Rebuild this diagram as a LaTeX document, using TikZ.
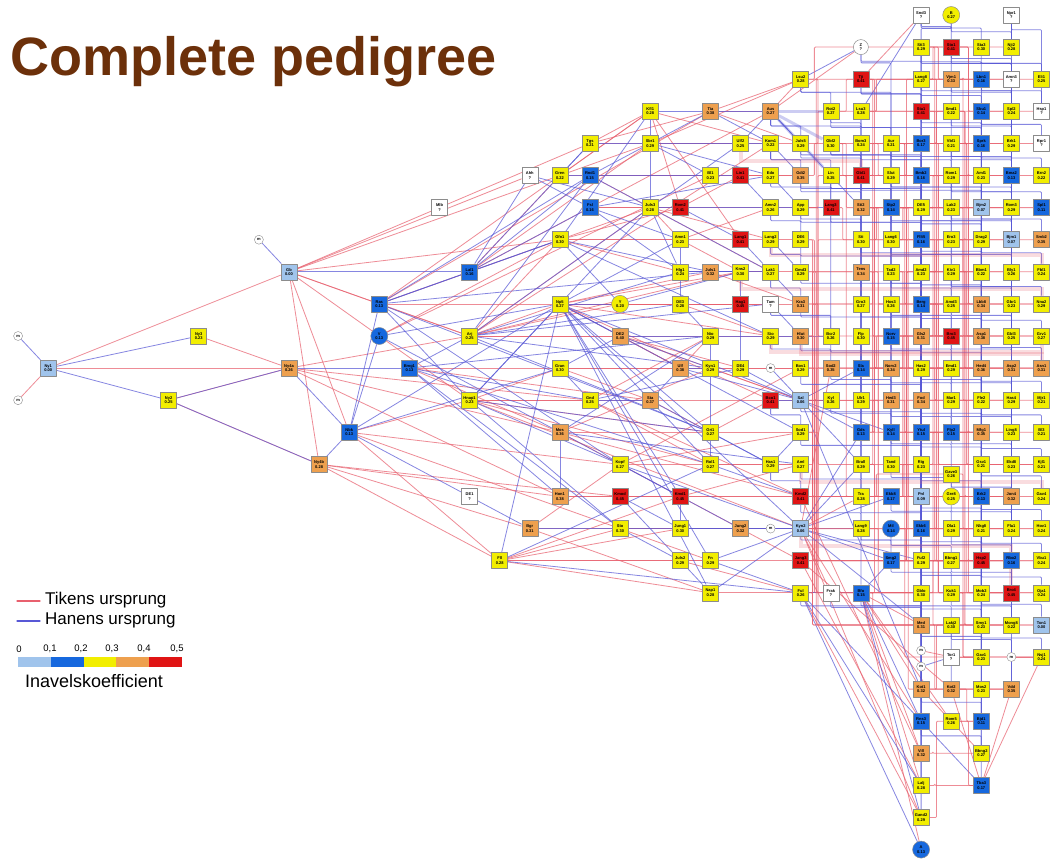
\documentclass[tikz,border=0pt]{standalone}
\usepackage{fontspec}
\setmainfont{Liberation Sans}
\pgfdeclarelayer{edges}
\pgfsetlayers{edges,main}
\definecolor{ilb}{RGB}{160,196,236}
\definecolor{ibl}{RGB}{22,104,222}
\definecolor{iye}{RGB}{242,238,0}
\definecolor{ior}{RGB}{238,160,78}
\definecolor{ird}{RGB}{224,20,20}
\definecolor{tik}{RGB}{232,96,110}
\definecolor{han}{RGB}{88,88,214}
\definecolor{titlebrown}{RGB}{108,48,10}
\begin{document}
\begin{tikzpicture}[x=30.1pt, y=-32.1pt, line join=round, line cap=round,
  ind/.style={draw=black!45, line width=0.5pt, minimum size=16pt, inner sep=0pt, align=center, font=\fontsize{4}{4.4}\selectfont\bfseries},
  ye/.style={ind, fill=iye}, lb/.style={ind, fill=ilb}, bl/.style={ind, fill=ibl},
  og/.style={ind, fill=ior}, rd/.style={ind, fill=ird}, wh/.style={ind, fill=white},
  cye/.style={ye, circle, minimum size=17pt}, cbl/.style={bl, circle, minimum size=17pt}, cwh/.style={wh, circle, minimum size=15pt},
  sc/.style={draw=black!45, fill=white, circle, minimum size=9pt, inner sep=0pt, font=\fontsize{4}{4}\selectfont\bfseries},
  tk/.style={draw=tik, line width=0.8pt, opacity=0.72, rounded corners=1pt},
  hn/.style={draw=han, line width=0.8pt, opacity=0.72, rounded corners=1pt},
  tkb/.style={draw=tik, line width=4pt, opacity=0.22},
  hnb/.style={draw=han, line width=3pt, opacity=0.3}]
\node[sc] (sc1) at (-9,10) {m};
\node[sc] (sc2) at (-9,12) {m};
\node[lb] (Ny1) at (-8,11) {Ny1\\0.00};
\node[ye] (Ny2) at (-4,12) {Ny2\\0.25};
\node[ye] (Ny3) at (-3,10) {Ny3\\0.23};
\node[sc] (sc3) at (-1,7) {m};
\node[lb] (Gb) at (0,8) {Gb\\0.00};
\node[og] (Ny4a) at (0,11) {Ny4a\\0.26};
\node[og] (Ny4b) at (1,14) {Ny4b\\0.28};
\node[bl] (Nbk) at (2,13) {Nbk\\0.13};
\node[bl] (Ras) at (3,9) {Ras\\0.13};
\node[cbl] (V) at (3,10) {V\\0.13};
\node[bl] (Bmg1) at (4,11) {Bmg1\\0.13};
\node[wh] (Mlb) at (5,6) {Mlb\\?};
\node[bl] (Lal1) at (6,8) {Lal1\\0.16};
\node[ye] (Arj) at (6,10) {Arj\\0.25};
\node[ye] (Hnap1) at (6,12) {Hnap1\\0.23};
\node[wh] (DE1) at (6,15) {DE1\\?};
\node[ye] (Fll) at (7,17) {Fll\\0.28};
\node[wh] (Ahh) at (8,5) {Ahh\\?};
\node[og] (Bgr) at (8,16) {Bgr\\0.31};
\node[ye] (Gren) at (9,5) {Gren\\0.22};
\node[ye] (Gfn1) at (9,7) {Gfn1\\0.30};
\node[ye] (Np5) at (9,9) {Np5\\0.27};
\node[ye] (Gran) at (9,11) {Gran\\0.30};
\node[og] (Mos) at (9,13) {Mos\\0.36};
\node[og] (Hon1) at (9,15) {Hon1\\0.38};
\node[ye] (Tgs) at (10,4) {Tgs\\0.21};
\node[bl] (Rnd1) at (10,5) {Rnd1\\0.15};
\node[bl] (Fsl) at (10,6) {Fsl\\0.16};
\node[ye] (Gnd) at (10,12) {Gnd\\0.25};
\node[cye] (Y) at (11,9) {Y\\0.20};
\node[og] (DE2) at (11,10) {DE2\\0.40};
\node[ye] (Kopf) at (11,14) {Kopf\\0.27};
\node[rd] (Kmod) at (11,15) {Kmod\\0.45};
\node[ye] (Sto) at (11,16) {Sto\\0.30};
\node[ye] (Kfl1) at (12,3) {Kfl1\\0.28};
\node[ye] (Sbr1) at (12,4) {Sbr1\\0.29};
\node[ye] (Juls3) at (12,6) {Juls3\\0.28};
\node[og] (Sta) at (12,12) {Sta\\0.37};
\node[rd] (Rom2) at (13,6) {Rom2\\0.41};
\node[ye] (Amn1) at (13,7) {Amn1\\0.23};
\node[ye] (Hlg1) at (13,8) {Hlg1\\0.24};
\node[ye] (DE3) at (13,9) {DE3\\0.28};
\node[og] (Ulf) at (13,11) {Ulf\\0.38};
\node[rd] (Kmd1) at (13,15) {Kmd1\\0.45};
\node[ye] (Jung1) at (13,16) {Jung1\\0.30};
\node[ye] (Juls2) at (13,17) {Juls2\\0.29};
\node[og] (Tia) at (14,3) {Tia\\0.38};
\node[ye] (Bl1) at (14,5) {Bl1\\0.23};
\node[og] (Juls1) at (14,8) {Juls1\\0.32};
\node[ye] (Nio) at (14,10) {Nio\\0.29};
\node[ye] (Kyn1) at (14,11) {Kyn1\\0.29};
\node[ye] (Gri1) at (14,13) {Gri1\\0.27};
\node[ye] (Rol1) at (14,14) {Rol1\\0.27};
\node[ye] (Fn) at (14,17) {Fn\\0.29};
\node[ye] (Nap1) at (14,18) {Nap1\\0.28};
\node[ye] (Ulf2) at (15,4) {Ulf2\\0.25};
\node[rd] (Lin1) at (15,5) {Lin1\\0.41};
\node[rd] (Lang1) at (15,7) {Lang1\\0.41};
\node[ye] (Kns2) at (15,8) {Kns2\\0.30};
\node[rd] (Hag1) at (15,9) {Hag1\\0.45};
\node[ye] (DE4) at (15,11) {DE4\\0.29};
\node[og] (Jung2) at (15,16) {Jung2\\0.32};
\node[og] (Aus) at (16,3) {Aus\\0.27};
\node[ye] (Kom1) at (16,4) {Kom1\\0.22};
\node[ye] (Edo) at (16,5) {Edo\\0.27};
\node[ye] (Amn2) at (16,6) {Amn2\\0.26};
\node[ye] (Lang2) at (16,7) {Lang2\\0.29};
\node[ye] (Lak1) at (16,8) {Lak1\\0.27};
\node[wh] (Tam) at (16,9) {Tam\\?};
\node[ye] (Sio) at (16,10) {Sio\\0.29};
\node[sc] (sc4) at (16,11) {m};
\node[rd] (Bco1) at (16,12) {Bco1\\0.41};
\node[ye] (Has1) at (16,14) {Has1\\0.29};
\node[sc] (sc5) at (16,16) {m};
\node[ye] (Lsu2) at (17,2) {Lsu2\\0.28};
\node[ye] (Juls5) at (17,4) {Juls5\\0.29};
\node[og] (Gdi2) at (17,5) {Gdi2\\0.35};
\node[ye] (App) at (17,6) {App\\0.29};
\node[ye] (DE6) at (17,7) {DE6\\0.29};
\node[ye] (Gmd3) at (17,8) {Gmd3\\0.29};
\node[og] (Kra3) at (17,9) {Kra3\\0.31};
\node[og] (Hlut) at (17,10) {Hlut\\0.30};
\node[ye] (Bov1) at (17,11) {Bov1\\0.29};
\node[lb] (Sal) at (17,12) {Sal\\0.06};
\node[ye] (Sod1) at (17,13) {Sod1\\0.29};
\node[ye] (Aml) at (17,14) {Aml\\0.27};
\node[rd] (Kmd2) at (17,15) {Kmd2\\0.41};
\node[lb] (Kyn2) at (17,16) {Kyn2\\0.06};
\node[rd] (Jang3) at (17,17) {Jang3\\0.41};
\node[ye] (Ful) at (17,18) {Ful\\0.26};
\node[ye] (Rot2) at (18,3) {Rot2\\0.27};
\node[ye] (Gbl2) at (18,4) {Gbl2\\0.30};
\node[ye] (Lin) at (18,5) {Lin\\0.25};
\node[rd] (Lang3) at (18,6) {Lang3\\0.41};
\node[ye] (Bcr2) at (18,10) {Bcr2\\0.26};
\node[og] (Sod2) at (18,11) {Sod2\\0.35};
\node[ye] (Kyl) at (18,12) {Kyl\\0.26};
\node[wh] (Frak) at (18,18) {Frak\\?};
\node[cwh] (Z) at (19,1) {Z\\?};
\node[rd] (Tji) at (19,2) {Tji\\0.41};
\node[ye] (Lsu3) at (19,3) {Lsu3\\0.28};
\node[ye] (Bom3) at (19,4) {Bom3\\0.24};
\node[rd] (Gbl1) at (19,5) {Gbl1\\0.41};
\node[og] (Sti2) at (19,6) {Sti2\\0.32};
\node[ye] (Sti) at (19,7) {Sti\\0.30};
\node[og] (Tens) at (19,8) {Tens\\0.34};
\node[ye] (Gro3) at (19,9) {Gro3\\0.27};
\node[ye] (Flp) at (19,10) {Flp\\0.30};
\node[bl] (Sla) at (19,11) {Sla\\0.14};
\node[ye] (Ulr1) at (19,12) {Ulr1\\0.29};
\node[bl] (Gds) at (19,13) {Gds\\0.13};
\node[ye] (Brall) at (19,14) {Brall\\0.29};
\node[ye] (Tra) at (19,15) {Tra\\0.28};
\node[ye] (Lang9) at (19,16) {Lang9\\0.28};
\node[bl] (Bfo) at (19,18) {Bfo\\0.15};
\node[ye] (Aur) at (20,4) {Aur\\0.21};
\node[ye] (Slut) at (20,5) {Slut\\0.29};
\node[bl] (Stp2) at (20,6) {Stp2\\0.14};
\node[ye] (Lang6) at (20,7) {Lang6\\0.30};
\node[ye] (Tad2) at (20,8) {Tad2\\0.23};
\node[ye] (Hos3) at (20,9) {Hos3\\0.26};
\node[bl] (Norv) at (20,10) {Norv\\0.15};
\node[og] (Norv2) at (20,11) {Norv2\\0.34};
\node[og] (Hed3) at (20,12) {Hed3\\0.31};
\node[bl] (Kyll) at (20,13) {Kyll\\0.14};
\node[ye] (Tand) at (20,14) {Tand\\0.30};
\node[bl] (Ekb8) at (20,15) {Ekb8\\0.17};
\node[cbl] (Mil) at (20,16) {Mil\\0.14};
\node[bl] (Smg2) at (20,17) {Smg2\\0.17};
\node[wh] (Snd3) at (21,0) {Snd3\\?};
\node[ye] (Sti3) at (21,1) {Sti3\\0.29};
\node[ye] (Lang8) at (21,2) {Lang8\\0.27};
\node[rd] (Sta1) at (21,3) {Sta1\\0.41};
\node[bl] (Bor3) at (21,4) {Bor3\\0.17};
\node[bl] (Bmb2) at (21,5) {Bmb2\\0.16};
\node[ye] (DE5) at (21,6) {DE5\\0.29};
\node[bl] (Fllt5) at (21,7) {Fllt5\\0.16};
\node[ye] (Amd2) at (21,8) {Amd2\\0.23};
\node[bl] (Berg) at (21,9) {Berg\\0.14};
\node[og] (Gls2) at (21,10) {Gls2\\0.31};
\node[ye] (Has2) at (21,11) {Has2\\0.29};
\node[og] (Fod) at (21,12) {Fod\\0.34};
\node[bl] (Ytul) at (21,13) {Ytul\\0.15};
\node[ye] (Rig) at (21,14) {Rig\\0.23};
\node[lb] (Pnl) at (21,15) {Pnl\\0.09};
\node[bl] (Ekb6) at (21,16) {Ekb6\\0.16};
\node[ye] (Ful2) at (21,17) {Ful2\\0.29};
\node[ye] (Gblo) at (21,18) {Gblo\\0.30};
\node[og] (Med) at (21,19) {Med\\0.31};
\node[sc] (sc6) at (21,19.8) {m};
\node[sc] (sc7) at (21,20.3) {m};
\node[og] (Kot1) at (21,21) {Kot1\\0.32};
\node[bl] (Rns3) at (21,22) {Rns3\\0.15};
\node[og] (Vill) at (21,23) {Vill\\0.32};
\node[ye] (Lalj) at (21,24) {Lalj\\0.28};
\node[ye] (Gand2) at (21,25) {Gand2\\0.29};
\node[cbl] (A) at (21,26) {A\\0.13};
\node[cye] (B) at (22,0) {B\\0.27};
\node[rd] (Sto1) at (22,1) {Sto1\\0.41};
\node[og] (Vjm1) at (22,2) {Vjm1\\0.33};
\node[ye] (Smd1) at (22,3) {Smd1\\0.22};
\node[ye] (Vbl1) at (22,4) {Vbl1\\0.21};
\node[ye] (Rom1) at (22,5) {Rom1\\0.29};
\node[ye] (Lak2) at (22,6) {Lak2\\0.23};
\node[ye] (Ero3) at (22,7) {Ero3\\0.23};
\node[ye] (Kiv1) at (22,8) {Kiv1\\0.29};
\node[ye] (Amd3) at (22,9) {Amd3\\0.25};
\node[rd] (Bro3) at (22,10) {Bro3\\0.45};
\node[ye] (Emd1) at (22,11) {Emd1\\0.29};
\node[ye] (Mar1) at (22,12) {Mar1\\0.29};
\node[bl] (Flp2) at (22,13) {Flp2\\0.15};
\node[ye] (Gave3) at (22,14.3) {Gave3\\0.26};
\node[cye] (Gre8) at (22,15) {Gre8\\0.25};
\node[ye] (Ola1) at (22,16) {Ola1\\0.29};
\node[ye] (Bbng1) at (22,17) {Bbng1\\0.27};
\node[ye] (Kuk1) at (22,18) {Kuk1\\0.29};
\node[ye] (Lakj2) at (22,19) {Lakj2\\0.30};
\node[wh] (Tor1) at (22,20) {Tor1\\?};
\node[og] (Kot2) at (22,21) {Kot2\\0.32};
\node[ye] (Rom5) at (22,22) {Rom5\\0.26};
\node[ye] (Sta3) at (23,1) {Sta3\\0.30};
\node[bl] (Lbn1) at (23,2) {Lbn1\\0.16};
\node[bl] (Sbu1) at (23,3) {Sbu1\\0.14};
\node[bl] (Sprk) at (23,4) {Sprk\\0.16};
\node[ye] (Aml1) at (23,5) {Aml1\\0.23};
\node[lb] (Bjm2) at (23,6) {Bjm2\\0.07};
\node[ye] (Drag2) at (23,7) {Drag2\\0.29};
\node[ye] (Bbm1) at (23,8) {Bbm1\\0.22};
\node[og] (Lbb8) at (23,9) {Lbb8\\0.34};
\node[og] (Asp1) at (23,10) {Asp1\\0.38};
\node[og] (Hed4) at (23,11) {Hed4\\0.36};
\node[ye] (Fle2) at (23,12) {Fle2\\0.22};
\node[og] (Mfg1) at (23,13) {Mfg1\\0.35};
\node[ye] (Gsv1) at (23,14) {Gsv1\\0.21};
\node[bl] (Brk2) at (23,15) {Brk2\\0.13};
\node[ye] (Nkg8) at (23,16) {Nkg8\\0.21};
\node[rd] (Hsp2) at (23,17) {Hsp2\\0.45};
\node[ye] (Mob2) at (23,18) {Mob2\\0.24};
\node[ye] (Smy1) at (23,19) {Smy1\\0.23};
\node[ye] (Gav1) at (23,20) {Gav1\\0.23};
\node[ye] (Mos2) at (23,21) {Mos2\\0.23};
\node[bl] (Bjd1) at (23,22) {Bjd1\\0.11};
\node[ye] (Bbng2) at (23,23) {Bbng2\\0.27};
\node[bl] (Tba3) at (23,24) {Tba3\\0.17};
\node[wh] (Npr1) at (24,0) {Npr1\\?};
\node[ye] (Nji2) at (24,1) {Nji2\\0.28};
\node[wh] (Amn3) at (24,2) {Amn3\\?};
\node[ye] (Spl2) at (24,3) {Spl2\\0.24};
\node[ye] (Brk1) at (24,4) {Brk1\\0.29};
\node[bl] (Bma2) at (24,5) {Bma2\\0.13};
\node[ye] (Rom3) at (24,6) {Rom3\\0.29};
\node[lb] (Bjm1) at (24,7) {Bjm1\\0.07};
\node[ye] (Bly1) at (24,8) {Bly1\\0.26};
\node[ye] (Gbr1) at (24,9) {Gbr1\\0.23};
\node[ye] (Gbl3) at (24,10) {Gbl3\\0.25};
\node[og] (Asp2) at (24,11) {Asp2\\0.31};
\node[ye] (Has4) at (24,12) {Has4\\0.29};
\node[ye] (Ling8) at (24,13) {Ling8\\0.23};
\node[ye] (Ekd8) at (24,14) {Ekd8\\0.23};
\node[og] (Jon4) at (24,15) {Jon4\\0.32};
\node[ye] (Fla1) at (24,16) {Fla1\\0.24};
\node[bl] (Rbo2) at (24,17) {Rbo2\\0.16};
\node[rd] (Bro4) at (24,18) {Bro4\\0.45};
\node[ye] (Mong8) at (24,19) {Mong8\\0.22};
\node[sc] (sc8) at (24,20) {m};
\node[og] (Vdd) at (24,21) {Vdd\\0.35};
\node[ye] (Eli1) at (25,2) {Eli1\\0.25};
\node[wh] (Hsp1) at (25,3) {Hsp1\\?};
\node[wh] (Rpr1) at (25,4) {Rpr1\\?};
\node[ye] (Brn2) at (25,5) {Brn2\\0.22};
\node[bl] (Spl1) at (25,6) {Spl1\\0.11};
\node[og] (Smb2) at (25,7) {Smb2\\0.35};
\node[ye] (Fbl1) at (25,8) {Fbl1\\0.24};
\node[ye] (Nna2) at (25,9) {Nna2\\0.29};
\node[ye] (Grv1) at (25,10) {Grv1\\0.27};
\node[og] (Asn1) at (25,11) {Asn1\\0.31};
\node[ye] (Mjr1) at (25,12) {Mjr1\\0.21};
\node[ye] (Bl3) at (25,13) {Bl3\\0.21};
\node[ye] (Kjl1) at (25,14) {Kjl1\\0.21};
\node[ye] (Gav4) at (25,15) {Gav4\\0.24};
\node[ye] (Hov1) at (25,16) {Hov1\\0.24};
\node[ye] (Vbu1) at (25,17) {Vbu1\\0.24};
\node[ye] (Oja1) at (25,18) {Oja1\\0.24};
\node[lb] (Ton1) at (25,19) {Ton1\\0.00};
\node[ye] (Nsj1) at (25,20) {Nsj1\\0.24};
\begin{pgfonlayer}{edges}
\fill[white] (-289pt,15pt) rectangle (767pt,-844pt);
\foreach \a/\b in {sc2/Ny1,Ny1/Gb,Ny1/Ny4a,Ny3/Ny4a,Ny2/Ny4a,Ny2/Ny4b,
  Gb/Ras,Gb/Arj,Gb/Hnap1,Gb/Nbk,Gb/Ny4b,Gb/Gren,Gb/Tgs,Gb/Ahh,
  Ny4a/Arj,Ny4a/Mos,Ny4a/Gnd,Ny4a/Hon1,Ny4b/Fll,Ny4b/Bgr,Ny4b/Kmod,
  Nbk/Hnap1,Nbk/Kopf,Nbk/Sto,Nbk/Fll,Ras/Arj,Ras/Np5,Ras/Kfl1,Ras/Tia,V/Gfn1,V/Bl1,
  Bmg1/Gran,Bmg1/Sta,Bmg1/Mos,Lal1/Gren,Lal1/Sbr1,Lal1/Aus,
  Arj/Np5,Arj/Y,Arj/Gfn1,Arj/DE2,Arj/Nio,Arj/Juls3,Hnap1/Gnd,Hnap1/Gran,Hnap1/Rol1,Hnap1/Gri1,
  Fll/Sto,Fll/Jung1,Fll/Juls2,Fll/Nap1,Fll/Kmd1,Bgr/Kopf,Bgr/Jung2,Hon1/Kmod,Hon1/Kmd1,Mos/Kyn1,Mos/Gri1,
  Gren/Kfl1,Gren/Bl1,Gren/Sbr1,Gfn1/Hlg1,Gfn1/Amn1,Np5/DE3,Np5/Juls1,Np5/Kns2,Np5/Ulf,Np5/Sio,
  Gran/Sta,Gran/Kyn1,Gnd/Nio,Gnd/Rol1,Tgs/Kfl1,Tgs/Tia,Rnd1/Lin1,Rnd1/Juls3,Fsl/Rom2,Fsl/Amn2,
  Y/DE3,Y/Hag1,DE2/Ulf,DE2/DE4,Kopf/Rol1,Kopf/Bov1,Kmod/Kmd1,Kmod/Kmd2,Sto/Jung1,Sto/Jung2,
  Kfl1/Rom2,Kfl1/Lang1,Sbr1/Ulf2,Sbr1/Lsu2,Juls3/Amn1,Juls3/Lak1,Sta/Gri1,Sta/Bco1,
  Rom2/Lin1,Amn1/Kns2,Hlg1/Juls1,DE3/Tam,Ulf/Nio,Ulf/Bov1,Kmd1/Kmd2,Jung1/Kyn2,Juls2/Fn,Juls2/Ful,
  Tia/Aus,Bl1/Edo,Juls1/Lak1,Nio/Sio,Kyn1/DE4,Kyn1/Sal,Gri1/Sod1,Rol1/Has1,Rol1/Aml,Fn/Jang3,Nap1/Ful,
  Jung2/Kyn2,Ulf2/Kom1,Lin1/Edo,Lang1/Lang2,Kns2/Lak1,Hag1/Tam,DE4/Bov1,Bco1/Sal,
  Aus/Lsu2,Kom1/Juls5,Edo/Gdi2,Amn2/App,Lang2/DE6,Lak1/Gmd3,Tam/Kra3,Sio/Hlut,Has1/Aml,Kyn2/Frak,
  Kyn2/Sod2,Kyn2/Tra,Sal/Ulr1,Ful/Gblo,Bfo/Med,Bfo/Kot1,Bfo/Vill,Bfo/Lalj,Kmd2/Tra,Jang3/Smg2,Frak/Bfo,
  Ful/Gand2,Bfo/A,Kyn2/Rns3,Jang3/Kot2,sc6/Tor1,sc8/Nsj1,Tor1/Gav1,Kot1/Bbng2,Kot2/Tba3,Vdd/Tba3,Nsj1/Tba3,
  Arj/Kom1,Np5/Bco1,Gfn1/Lang1,Y/Tam,DE2/Sal,Hnap1/Kyn2,Mos/Jang3,Gnd/Kmd2,Bgr/Nap1,Kopf/Sod1,Sto/Fn,
  Z/Aus,Snd3/Tji,Tia/Lsu2,Jang3/Lalj,Kyn2/Gand2,Kmd2/Vill,Bfo/Rom5,
  Gb/Gfn1,Ny4b/Hon1,Ras/Juls3,Arj/Kns2,Hnap1/Sta,Gfn1/Rom2,Np5/Hag1,Gran/Ulf,Kfl1/Kom1,Tgs/Ulf2,
  Juls3/Lang2,Amn1/Amn2,DE3/Sio,Gri1/Bco1,Kmd1/Aml,Fll/Fn,Juls1/Kra3,Lin1/Gdi2,Tia/Juls5,Mos/Kmd2}
  \draw[tk] (\a) -- (\b);
\foreach \a/\b in {sc1/Ny1,Ny1/Ny3,Ny1/Ny2,sc3/Gb,Ny2/Ny4a,Ny2/Ny4b,
  Gb/Lal1,Ny4a/Bmg1,Ny4a/Nbk,Ny4b/Nbk,Nbk/Ras,Nbk/V,Nbk/Bgr,Nbk/Np5,
  Ras/Lal1,Ras/Gfn1,Ras/Hnap1,Ras/Kopf,Ras/Gri1,V/Mos,Bmg1/Arj,Bmg1/Gnd,Bmg1/Hon1,Bmg1/Rol1,Bmg1/Sto,
  Lal1/Rnd1,Lal1/Ahh,Lal1/Fsl,Arj/Kyn1,Arj/Gri1,Arj/Hlg1,Arj/Rnd1,Hnap1/Np5,Hnap1/Sto,Hnap1/Kopf,
  Fll/Np5,Fll/Rol1,Bgr/Sto,Hon1/Mos,Mos/Nio,
  Ahh/Fsl,Ahh/Juls3,Gren/Rnd1,Gfn1/Y,Gfn1/Kfl1,Np5/Y,Np5/DE2,Np5/Gri1,Np5/Rol1,Np5/Nap1,Np5/Fn,Np5/Kmd1,
  Gran/Gnd,Gran/DE2,Mos/Kopf,Gnd/Sta,Tgs/Sbr1,Rnd1/Bl1,Rnd1/Tia,Fsl/Hlg1,Fsl/Amn1,
  DE2/Kyn1,Kopf/Kmd1,Kmod/Jung1,Sto/Juls2,Sto/Kyn2,
  Kfl1/Juls3,Sbr1/Bl1,Sbr1/Kom1,Juls3/Rom2,Juls3/Hlg1,Sta/Ulf,Sta/Has1,
  Rom2/Lang1,Amn1/DE3,Hlg1/Kns2,DE3/Nio,Ulf/Kyn1,Kmd1/Jung1,Jung1/Jung2,Juls2/Nap1,Tia/Kom1,Bl1/Lin1,
  Juls1/Kns2,Nio/Kyn1,Kyn1/Gri1,Gri1/Rol1,Rol1/Kmd2,Fn/Ful,Nap1/Kyn2,Ulf2/Aus,Lin1/Amn2,Lang1/Lak1,
  Kns2/Hag1,Hag1/DE4,DE4/Sal,Jung2/sc5,sc5/Kyn2,sc4/Sal,Aus/Juls5,Aus/Sti2,Kom1/Gdi2,Edo/App,
  Amn2/Lang3,Lang2/Gmd3,Lak1/Kra3,Tam/Hlut,Sio/Bcr2,Bco1/Kyl,Has1/Sod1,
  Kyn2/Lang9,Kyn2/Brall,Kyn2/Gds,Kyn2/Smg2,Kyn2/Ful2,Kyn2/Ekb8,Sal/Gds,Sal/Kyll,Sal/Brall,Sal/Sla,
  Ful/Bfo,Bfo/Smg2,Ful/A,Bfo/Rns3,sc7/Tor1,Bfo/Gand2,Ful/Lalj,
  Lal1/Tgs,Ras/Juls1,V/Np5,Hnap1/Juls3,Arj/Ulf2,Np5/Kyn2,Np5/Sal,Np5/Sod1,Gfn1/Sio,Fsl/Edo,Rnd1/Lak1,
  Fll/Ful,Kopf/Kyn2,Arj/Tam,Mos/Aml,Z/Lsu2,Snd3/Lsu3,Npr1/Nji2,Kfl1/Aus,Sal/Kot1,Kyn2/Med,Ful/Tba3,
  Lal1/Gfn1,Nbk/Gran,Ras/Rnd1,Bmg1/Nio,Arj/DE3,Hnap1/Gri1,Gren/Tgs,Gfn1/Juls1,Np5/Amn1,Gnd/DE4,
  Kopf/Jung2,Kmod/Juls2,Y/Kns2,DE2/Sio,Sbr1/Edo,Rom2/Amn2,Hlg1/Lak1,Ulf/Sal,Gri1/Has1,Fn/Kyn2}
  \draw[hn] (\a) -- (\b);
\foreach \a/\b [count=\i] in {Lsu2/Sto1,Rot2/Lbn1,Juls5/Smd1,Gbl2/Bmb2,Gdi2/Bor3,Lin/DE5,App/Slut,
  Lang3/Fllt5,DE6/Tens,Gmd3/Hos3,Kra3/Flp,Hlut/Gro3,Bov1/Hed3,Sal/Norv2,Sod1/Rig,Aml/Ekb8,Kmd2/Ekb6,
  Kyn2/Ful2,Jang3/Gblo,Ful/Med,Tji/Smd1,Lsu3/Vjm1,Bom3/Rom1,Gbl1/Vbl1,Sti2/Ero3,Sti/Lak2,Tens/Amd3,
  Gro3/Kiv1,Flp/Emd1,Sla/Bro3,Ulr1/Flp2,Gds/Mar1,Brall/Gre8,Tra/Gave3,Lang9/Bbng1,Bfo/Lakj2,
  Aur/Aml1,Slut/Sprk,Stp2/Drag2,Lang6/Bjm2,Tad2/Lbb8,Hos3/Bbm1,Norv/Hed4,Norv2/Asp1,Hed3/Mfg1,
  Kyll/Fle2,Tand/Brk2,Ekb8/Gsv1,Mil/Hsp2,Smg2/Nkg8,Sti3/Amn3,Lang8/Nji2,Sta1/Brk1,Bor3/Spl2,
  Bmb2/Rom3,DE5/Bma2,Fllt5/Bly1,Amd2/Bjm1,Berg/Gbl3,Gls2/Gbr1,Has2/Has4,Fod/Asp2,Ytul/Ekd8,
  Rig/Ling8,Pnl/Fla1,Ekb6/Jon4,Ful2/Bro4,Gblo/Rbo2,Med/Vdd,Kot1/Mong8,Sto1/Hsp1,Vjm1/Eli1,
  Smd1/Rpr1,Vbl1/Spl1,Rom1/Brn2,Lak2/Fbl1,Ero3/Smb2,Kiv1/Grv1,Amd3/Nna2,Bro3/Mjr1,Emd1/Asn1,
  Mar1/Kjl1,Flp2/Bl3,Gave3/Hov1,Gre8/Gav4,Ola1/Oja1,Bbng1/Vbu1,Kuk1/Nsj1,Lakj2/Ton1,Kot2/Bjd1,
  Rom5/Tba3,Vill/Bbng2,Lalj/Tba3,Gand2/Bjd1,
  Lsu2/Ful2,Tji/Bro3,Lsu3/Emd1,Gbl2/Gre8,App/Has2,DE6/Pnl,Gmd3/Kuk1,Kra3/Smy1,Sti2/Bro4,Tens/Mfg1,
  Aur/Gav1,Stp2/Hsp2,Lang6/Vdd,Tad2/Jon4,Sti3/Asp1,Lang8/Hed4,Bor3/Bro4,DE5/Mong8,Amd2/Rbo2,Berg/Vbu1,
  Sto1/Nna2,Vjm1/Grv1,Smd1/Asn1,Vbl1/Kjl1,Lak2/Oja1,Ero3/Nsj1,Kiv1/Ton1,Sal/Gblo,Bov1/Lakj2,Sod1/Med,
  Hlut/Bbng1,Kyn2/Lang8,Jang3/Sti,Ful/Tens,Bfo/Sti2,Smg2/Vjm1,Tra/Amd3,Brall/Lak2,Gds/Bro3,Mil/Kiv1}
  \draw[tk] (\a.east) -- ++({0.12+0.06*mod(\i,4)},0) |- (\b);
\foreach \a/\b [count=\i] in {Lsu2/Rot2,Aus/Juls5,Kom1/Gdi2,Edo/Lang3,Amn2/DE6,Lang2/Gmd3,Lak1/Kra3,
  Tam/Bcr2,Sio/Sod2,Bco1/Sod1,Has1/Kmd2,Juls5/Gbl1,Gdi2/Sti2,App/Sti,DE6/Tad2,Gmd3/Gro3,Kra3/Norv,
  Hlut/Sla,Bov1/Ulr1,Sal/Gds,Sod1/Brall,Aml/Tra,Kmd2/Lang9,Kyn2/Smg2,Ful/Kot1,Frak/Med,Rot2/Bom3,
  Gbl2/Slut,Lin/Stp2,Lang3/Lang6,Bcr2/Norv2,Sod2/Hed3,Kyl/Kyll,Tji/Sta1,Lsu3/Bor3,Bom3/Bmb2,
  Gbl1/DE5,Sti2/Fllt5,Sti/Amd2,Tens/Berg,Gro3/Gls2,Flp/Has2,Sla/Fod,Ulr1/Ytul,Gds/Rig,Brall/Pnl,
  Tra/Ekb6,Lang9/Ful2,Bfo/Kot2,Z/Lang8,Aur/Rom1,Slut/Lak2,Stp2/Ero3,Lang6/Kiv1,Tad2/Amd3,Hos3/Bro3,
  Norv/Emd1,Norv2/Mar1,Hed3/Flp2,Kyll/Gave3,Tand/Gre8,Ekb8/Ola1,Mil/Bbng1,Smg2/Kuk1,Snd3/Sta3,
  Sti3/Lbn1,Lang8/Sbu1,Sta1/Sprk,Bor3/Aml1,Bmb2/Bjm2,DE5/Drag2,Fllt5/Bbm1,Amd2/Lbb8,Berg/Asp1,
  Gls2/Hed4,Has2/Fle2,Fod/Mfg1,Ytul/Gsv1,Rig/Brk2,Pnl/Nkg8,Ekb6/Hsp2,Ful2/Mob2,Gblo/Smy1,Med/Gav1,
  Kot1/Bjd1,Rns3/Bbng2,B/Nji2,Sto1/Amn3,Vjm1/Spl2,Smd1/Brk1,Vbl1/Bma2,Rom1/Rom3,Lak2/Bjm1,Ero3/Bly1,
  Kiv1/Gbr1,Amd3/Gbl3,Bro3/Asp2,Emd1/Has4,Mar1/Ling8,Flp2/Ekd8,Gave3/Jon4,Gre8/Fla1,Ola1/Rbo2,
  Bbng1/Bro4,Kuk1/Mong8,Lakj2/Vdd,Sta3/Eli1,Lbn1/Hsp1,Sbu1/Rpr1,Sprk/Brn2,Aml1/Spl1,Bjm2/Smb2,
  Drag2/Fbl1,Bbm1/Nna2,Lbb8/Grv1,Asp1/Asn1,Hed4/Mjr1,Fle2/Bl3,Mfg1/Kjl1,Gsv1/Gav4,Brk2/Hov1,
  Nkg8/Vbu1,Hsp2/Oja1,Mob2/Ton1,Smy1/Nsj1,Npr1/Hsp1,
  Z/Norv,Snd3/Flp2,B/Gls2,Npr1/Gbl3,Sto1/Asp2,Lbn1/Bjd1,Sbu1/Hsp2,Tji/Ytul,Lsu3/Tand,Rot2/Ulr1,
  Lsu2/Kyll,Aus/Sla,Kom1/Bcr2,Gbl2/Gds,Lin/Tand,Juls5/Bfo,Gdi2/Tra,App/Brall,Sti/Ekb6,Gbl1/Pnl,
  Bom3/Ful2,Slut/Gblo,Aur/Med,Stp2/Kot1,Lang6/Rns3,Tad2/Vill,Hos3/Lalj,Norv/Gand2,Sta1/Smy1,Bmb2/Mob2,
  DE5/Bbng2,Fllt5/Tba3,Rom1/Vdd,Lak2/Mong8,Vbl1/Ekd8,Kiv1/Fla1,Sti3/Bly1,Lang8/Gbr1}
  \draw[hn] (\a.south) -- ++(0,{0.1+0.05*mod(\i,4)}) -| (\b);
\draw[tkb] (Ulf2.south) -- ++(0,0.3) -| (Gbl1);
\draw[tkb] (Lang2.south) -- ++(0,0.22) -| (Fbl1);
\draw[tkb] (Kns2.south) -- ++(0,0.28) -| (Nna2);
\draw[tkb] (Hlut.south) -- ++(0,0.3) -| (Asn1);
\draw[tkb] (Aml.south) -- ++(0,0.3) -| (Gav4);
\draw[tkb] (Kyn2.south) -- ++(0,0.3) -| (Bro4);
\draw[tkb] (Sio.south) -- ++(0,0.25) -| (Grv1);
\draw[hnb] (Aus) -- (Rot2);
\draw[hnb] (Aus) -- (Gbl2);
\draw[hnb] (Aus) -- (Lin);
\end{pgfonlayer}
\begin{scope}[shift={(-289pt,15pt)}, x=1pt, y=-1pt]
\useasboundingbox (0,0) rectangle (1056,859);
\node[anchor=base west, inner sep=0pt, text=titlebrown, font=\fontsize{54}{60}\selectfont\bfseries] (title) at (10,75) {Complete pedigree};
\coordinate (tk0) at (17,601);
\coordinate (tk1) at (40,601);
\coordinate (hn0) at (17,621);
\coordinate (hn1) at (40,621);
\draw[draw=tik, line width=1.2pt] (tk0) -- (tk1);
\draw[draw=han, line width=1.2pt] (hn0) -- (hn1);
\node[anchor=west, inner sep=0pt, font=\fontsize{17}{20}\selectfont] (tktxt) at (45,600) {Tikens ursprung};
\node[anchor=west, inner sep=0pt, font=\fontsize{17}{20}\selectfont] (hntxt) at (45,620) {Hanens ursprung};
\fill[ilb] (18,657) rectangle (51,667);
\fill[ibl] (51,657) rectangle (84,667);
\fill[iye] (84,657) rectangle (116,667);
\fill[ior] (116,657) rectangle (149,667);
\fill[ird] (149,657) rectangle (182,667);
\node[font=\fontsize{9.5}{11}\selectfont] (t0) at (19,649) {0};
\node[font=\fontsize{9.5}{11}\selectfont] (t1) at (50,649) {0,1};
\node[font=\fontsize{9.5}{11}\selectfont] (t2) at (81,649) {0,2};
\node[font=\fontsize{9.5}{11}\selectfont] (t3) at (112,649) {0,3};
\node[font=\fontsize{9.5}{11}\selectfont] (t4) at (144,649) {0,4};
\node[font=\fontsize{9.5}{11}\selectfont] (t5) at (177,649) {0,5};
\node[font=\fontsize{18}{21}\selectfont] (inav) at (94,681) {Inavelskoefficient};
\end{scope}
\end{tikzpicture}
\end{document}
